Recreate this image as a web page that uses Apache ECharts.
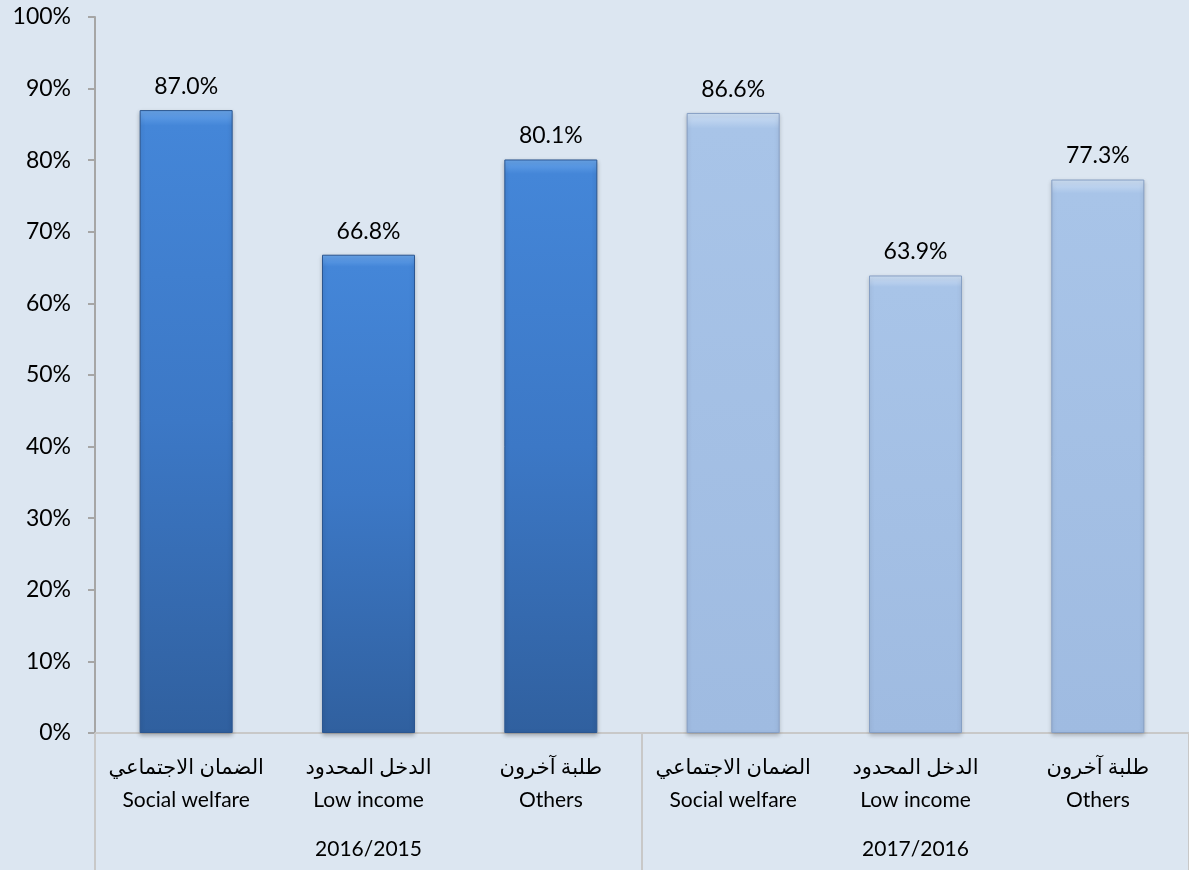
<!DOCTYPE html>
<html><head><meta charset="utf-8">
<script src="https://cdn.jsdelivr.net/npm/echarts@6/dist/echarts.min.js"></script>
<style>html,body{margin:0;padding:0;background:#dce6f1;}#c{width:1189px;height:870px;}</style>
</head><body><div id="c"></div>
<script>
const categoriesAr = ['الضمان الاجتماعي','الدخل المحدود','طلبة آخرون','الضمان الاجتماعي','الدخل المحدود','طلبة آخرون'];
const categoriesEn = ['Social welfare','Low income','Others','Social welfare','Low income','Others'];
const groups = ['2016/2015','2017/2016'];
const values = [87.0, 66.8, 80.1, 86.6, 63.9, 77.3];
const groupOfBar = [0,0,0,1,1,1];
const yTicks = [0,10,20,30,40,50,60,70,80,90,100];

const FONT = 'Lato, "DejaVu Sans", sans-serif';
const darkStyle = {
  color: {type:'linear',x:0,y:0,x2:0,y2:1,colorStops:[{offset:0,color:'#6aa6ec'},{offset:0.025,color:'#4486d8'},{offset:0.5,color:'#3c78c6'},{offset:1,color:'#30609f'}]},
  borderColor:'#2b5690', borderWidth:1,
  shadowColor:'rgba(0,0,0,0.25)', shadowBlur:4, shadowOffsetY:2
};
const lightStyle = {
  color: {type:'linear',x:0,y:0,x2:0,y2:1,colorStops:[{offset:0,color:'#cfe0f5'},{offset:0.025,color:'#a8c4e8'},{offset:1,color:'#9fbbe1'}]},
  borderColor:'#869fc4', borderWidth:1,
  shadowColor:'rgba(0,0,0,0.2)', shadowBlur:4, shadowOffsetY:2
};

const chart = echarts.init(document.getElementById('c'));
chart.setOption({
  backgroundColor:'#dce6f1',
  animation:false,
  grid:{left:95,right:0,top:17,bottom:137,containLabel:false},
  xAxis:[{
    type:'category',
    data: categoriesEn.map((e,i)=>categoriesAr[i]+'\n'+e),
    axisLine:{show:true,lineStyle:{color:'#c8c8c8',width:2}},
    axisTick:{show:false},
    axisLabel:{color:'#000',fontSize:21,fontFamily:FONT,lineHeight:33,margin:18,interval:0}
  },{
    type:'category',
    position:'bottom',
    data: groups,
    axisLine:{show:false},
    axisTick:{show:true,length:137,lineStyle:{color:'#c8c8c8',width:2}},
    axisLabel:{color:'#000',fontSize:21,fontFamily:FONT,margin:106},
    axisPointer:{show:false}
  }],
  yAxis:{
    type:'value',min:0,max:100,interval:10,
    axisLine:{show:true,lineStyle:{color:'#a6a6a6',width:2}},
    axisTick:{show:true,length:7,lineStyle:{color:'#a6a6a6',width:2}},
    splitLine:{show:false},
    axisLabel:{color:'#000',fontSize:23,fontFamily:FONT,margin:24,formatter:v=>yTicks.includes(v)?v+'%':''}
  },
  series:[{
    type:'bar',
    xAxisIndex:0,
    barWidth:'51%',
    data: values.map((v,i)=>({value:v,itemStyle: groupOfBar[i]===0?darkStyle:lightStyle})),
    label:{show:true,position:'top',distance:12,color:'#000',fontSize:23,fontFamily:FONT,formatter:p=>p.value.toFixed(1)+'%'}
  }]
});
</script></body></html>
